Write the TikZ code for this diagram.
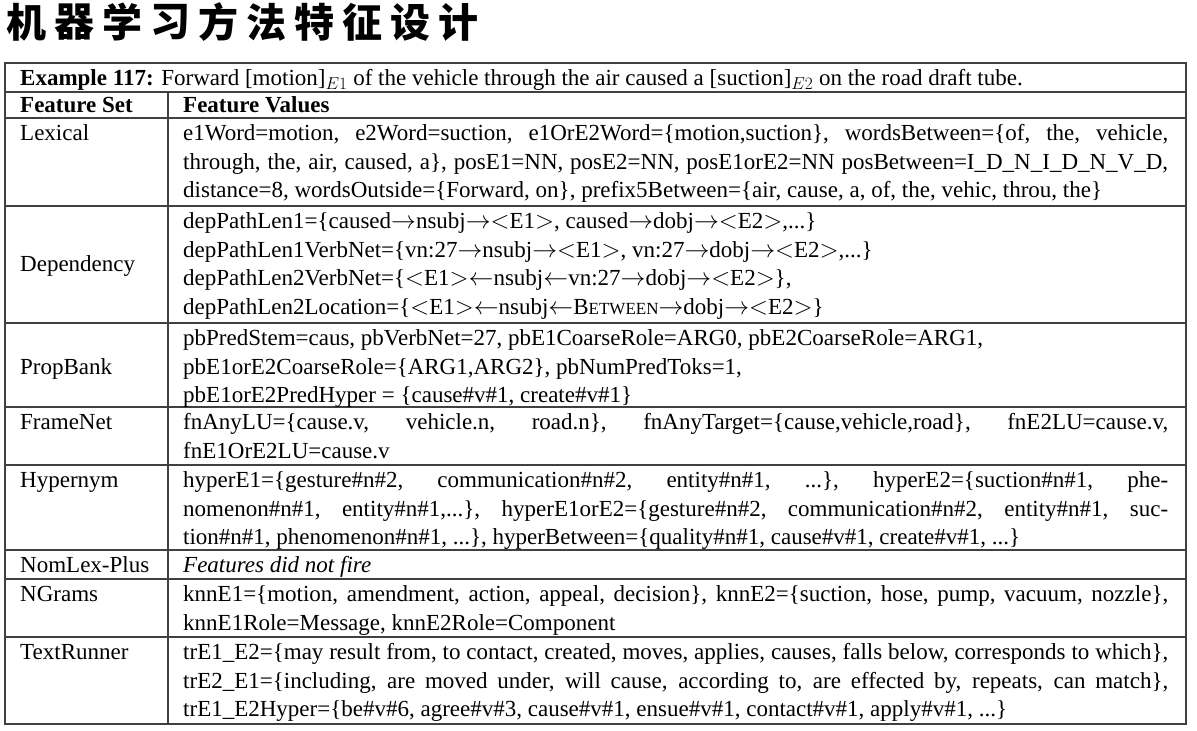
\documentclass[tikz,border=0pt]{standalone}
\usepackage{fontspec}
\setmainfont{Liberation Serif}
\newfontfamily\cjk{Noto Sans CJK SC}
\tikzstyle{titlechar}=[inner sep=0pt,font=\cjk\bfseries\fontsize{40}{40}\selectfont]
\tikzstyle{setcell}=[anchor=base west,inner sep=0pt]
\tikzstyle{valcell}=[anchor=base west,inner sep=0pt,text width=985pt,align=justify]
\tikzstyle{tabline}=[line width=1.1pt,black!75]
\newcommand{\rarr}{\ensuremath{\rightarrow}}
\newcommand{\larr}{\ensuremath{\leftarrow}}
\newcommand{\btw}{B{\fontsize{17}{17}\selectfont ETWEEN}}
\newcommand{\ent}[1]{\ensuremath{<}E#1\ensuremath{>}}

\begin{document}
\begin{tikzpicture}[x=1pt,y=-1pt,font=\fontsize{23}{28.7}\selectfont]
    \useasboundingbox (0,0) rectangle (1197,731);
    \pretolerance=10000 \tolerance=10000
    % title
    \foreach \c [count=\i] in {机,器,学,习,方,法,特,征,设,计}
        \node[titlechar] (t\i) at ({26+48.1*(\i-1)},22) {\c};

    % table rules
    \draw[tabline] (5,63) rectangle (1186,724);
    \foreach \y in {92,118,206,323,407,465,550,579,637}
        \draw[tabline] (5,\y) -- (1186,\y);
    \draw[tabline] (168,92) -- (168,724);

    \node[setcell] (ex) at (20,85.5) {\textbf{Example 117:} Forward [motion]$_{E1}$ of the vehicle through the air caused a [suction]$_{E2}$ on the road draft tube.};
    \node[setcell] (hset) at (20,112.5) {\textbf{Feature Set}};
    \node[setcell] (hval) at (183,112.5) {\textbf{Feature Values}};

    % feature sets
    \foreach \n/\y/\txt in {lex/140.5/Lexical, dep/271.5/Dependency, pb/374.2/PropBank,
        fn/429.5/FrameNet, hyp/487.5/Hypernym, nom/572.5/NomLex-Plus,
        ng/601.5/NGrams, tr/659.5/TextRunner}
        \node[setcell] (\n) at (20,\y) {\txt};

    % feature values
    \node[valcell] (lexv) at (183,140.5) {e1Word=motion, e2Word=suction, e1OrE2Word=\{motion,suction\}, wordsBetween=\{of, the, vehicle,\linebreak through, the, air, caused, a\}, posE1=NN, posE2=NN, posE1orE2=NN posBetween=I\_D\_N\_I\_D\_N\_V\_D,\linebreak distance=8, wordsOutside=\{Forward, on\}, prefix5Between=\{air, cause, a, of, the, vehic, throu, the\}};
    \node[valcell] (depv) at (183,228.5) {depPathLen1=\{caused\rarr nsubj\rarr\ent1, caused\rarr dobj\rarr\ent2,...\}\\
        depPathLen1VerbNet=\{vn:27\rarr nsubj\rarr\ent1, vn:27\rarr dobj\rarr\ent2,...\}\\
        depPathLen2VerbNet=\{\ent1\larr nsubj\larr vn:27\rarr dobj\rarr\ent2\},\\
        depPathLen2Location=\{\ent1\larr nsubj\larr\btw\rarr dobj\rarr\ent2\}};
    \node[valcell] (pbv) at (183,345.5) {pbPredStem=caus, pbVerbNet=27, pbE1CoarseRole=ARG0, pbE2CoarseRole=ARG1,\\
        pbE1orE2CoarseRole=\{ARG1,ARG2\}, pbNumPredToks=1,\\
        pbE1orE2PredHyper = \{cause\#v\#1, create\#v\#1\}};
    \node[valcell] (fnv) at (183,429.5) {fnAnyLU=\{cause.v, vehicle.n, road.n\}, fnAnyTarget=\{cause,vehicle,road\}, fnE2LU=cause.v,\linebreak fnE1OrE2LU=cause.v};
    \node[valcell] (hypv) at (183,487.5) {hyperE1=\{gesture\#n\#2, communication\#n\#2, entity\#n\#1, ...\}, hyperE2=\{suction\#n\#1, phe-\linebreak nomenon\#n\#1, entity\#n\#1,...\}, hyperE1orE2=\{gesture\#n\#2, communication\#n\#2, entity\#n\#1, suc-\linebreak tion\#n\#1, phenomenon\#n\#1, ...\}, hyperBetween=\{quality\#n\#1, cause\#v\#1, create\#v\#1, ...\}};
    \node[valcell] (nomv) at (183,572.5) {\textit{Features did not fire}};
    \node[valcell] (ngv) at (183,601.5) {knnE1=\{motion, amendment, action, appeal, decision\}, knnE2=\{suction, hose, pump, vacuum, nozzle\},\linebreak knnE1Role=Message, knnE2Role=Component};
    \node[valcell] (trv) at (183,659.5) {trE1\_E2=\{may result from, to contact, created, moves, applies, causes, falls below, corresponds to which\},\linebreak trE2\_E1=\{including, are moved under, will cause, according to, are effected by, repeats, can match\},\linebreak trE1\_E2Hyper=\{be\#v\#6, agree\#v\#3, cause\#v\#1, ensue\#v\#1, contact\#v\#1, apply\#v\#1, ...\}};
\end{tikzpicture}
\end{document}
